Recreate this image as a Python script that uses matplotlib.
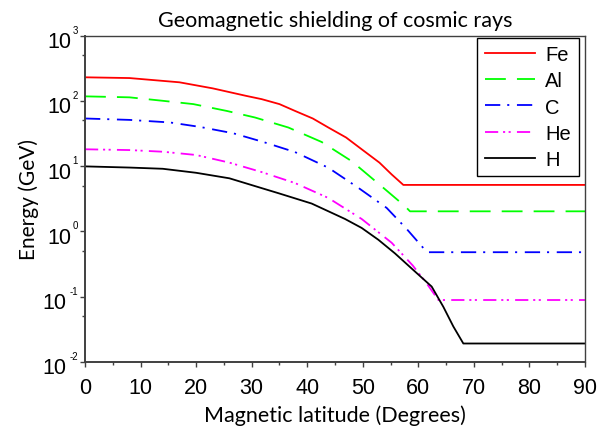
import numpy as np
import matplotlib
matplotlib.use("Agg")
import matplotlib.pyplot as plt
from matplotlib.ticker import FixedLocator, NullFormatter

plt.rcParams['lines.scale_dashes'] = False

# ---- data (latitude in degrees, energy in GeV) ----
fe_lat = [0, 8, 17, 23, 29, 31.8, 35, 37.8, 41, 43.8, 47, 49.8, 53, 55.2, 57.3, 90]
fe_e = [229, 223, 192, 155, 119, 106, 89, 70, 53.6, 39, 27.4, 18.1, 11.3, 7.45, 5.15, 5.15]

al_lat = [0, 8, 14, 19.5, 25.5, 30.6, 36.6, 42.6, 48, 53.7, 57.6, 58.5, 90]
al_e = [117, 113, 100, 89, 70, 55.5, 39, 23.4, 11.9, 4.65, 2.43, 2.03, 2.03]

c_lat = [0, 8, 15.3, 20.7, 26.7, 32.1, 37.8, 43.8, 49.2, 54.3, 57.9, 61.2, 61.6, 90]
c_e = [53.6, 51, 46.6, 39.8, 31.8, 23.4, 16.4, 9.44, 4.65, 2.29, 1.09, 0.52, 0.48, 0.48]

he_lat = [0, 8, 14, 20, 26, 31.8, 37.8, 43.8, 49.8, 55.2, 59, 61.5, 63.6, 90]
he_e = [18.1, 17.6, 16.6, 14.8, 11.3, 8.1, 5.5, 3.25, 1.55, 0.67, 0.3, 0.16, 0.089, 0.089]

h_lat = [0, 8, 14, 20, 26, 31.8, 34.8, 40.8, 46.8, 49.8, 52.8, 55.8, 58.8, 62.4, 64.5, 66.3, 68.1, 90]
h_e = [9.9, 9.5, 9.1, 7.9, 6.5, 4.6, 3.85, 2.67, 1.55, 1.13, 0.745, 0.46, 0.27, 0.143, 0.07, 0.035, 0.0192, 0.0192]

series = [
    ("Fe", fe_lat, fe_e, "#ff0000", "-"),
    ("Al", al_lat, al_e, "#00ff00", (0, (15, 8))),
    ("C", c_lat, c_e, "#0000ff", (0, (11, 5, 1.5, 5.5))),
    ("He", he_lat, he_e, "#ff00ff", (0, (9.5, 3.5, 1.5, 2.5, 1.5, 4.5))),
    ("H", h_lat, h_e, "#000000", "-"),
]

y_exps = [-2, -1, 0, 1, 2, 3]

fig = plt.figure(figsize=(6.06, 4.35), dpi=100)
ax = fig.add_axes([85 / 606, 1 - 363 / 435, 500 / 606, 326.5 / 435])

for name, lat, e, col, ls in series:
    ax.plot(lat, e, color=col, linestyle=ls, linewidth=1.3, label=name)

ax.set_yscale('log')
ax.set_xlim(0, 90)
ax.set_ylim(1e-2, 1e3)

spine_col = '#404040'
for s in ax.spines.values():
    s.set_color(spine_col)
    s.set_linewidth(1.0)
ax.spines['left'].set_linewidth(1.4)
ax.spines['bottom'].set_linewidth(1.4)

ax.set_xticks(np.arange(0, 91, 10))
ax.xaxis.set_minor_locator(FixedLocator(np.arange(5, 90, 10)))
ax.yaxis.set_major_locator(FixedLocator([10.0 ** k for k in y_exps]))
ax.yaxis.set_minor_locator(FixedLocator([5 * 10.0 ** k for k in y_exps[:-1]]))
ax.yaxis.set_major_formatter(NullFormatter())
ax.yaxis.set_minor_formatter(NullFormatter())
ax.tick_params(which='both', direction='out', color=spine_col, width=1.0,
               top=False, right=False)
ax.tick_params(which='major', length=3.6)
ax.tick_params(which='minor', length=2.2)
ax.tick_params(axis='x', which='major', pad=7, labelsize=15.5)
for lab in ax.get_xticklabels():
    lab.set_family('Liberation Sans')

# y tick labels as "10" with a small raised exponent
for k in y_exps:
    ex = str(k)
    ax.annotate(ex, xy=(0, 10.0 ** k), xycoords=('axes fraction', 'data'),
                xytext=(-5.0, 4.3), textcoords='offset points',
                ha='right', va='center', fontsize=7, family='Liberation Sans')
    ax.annotate('10', xy=(0, 10.0 ** k), xycoords=('axes fraction', 'data'),
                xytext=(-6.5 - 3.6 * len(ex), -4.3), textcoords='offset points',
                ha='right', va='center', fontsize=15.5, family='Liberation Sans')

ax.set_title('Geomagnetic shielding of cosmic rays', family='Lato',
             fontsize=15.5, pad=7)
ax.set_xlabel('Magnetic latitude (Degrees)', family='Lato', fontsize=15.5,
              labelpad=5)
ax.set_ylabel('Energy (GeV)', family='Lato', fontsize=15, labelpad=26)

leg = ax.legend(loc='upper right', bbox_to_anchor=(0.987, 0.993),
                borderaxespad=0, fancybox=False, framealpha=1,
                edgecolor='black', prop={'family': 'Liberation Sans', 'size': 14.5},
                handlelength=2.5, handletextpad=0.5, labelspacing=0.35,
                borderpad=0.38)
leg.get_frame().set_linewidth(1.0)

fig.savefig('out.png', dpi=100)
